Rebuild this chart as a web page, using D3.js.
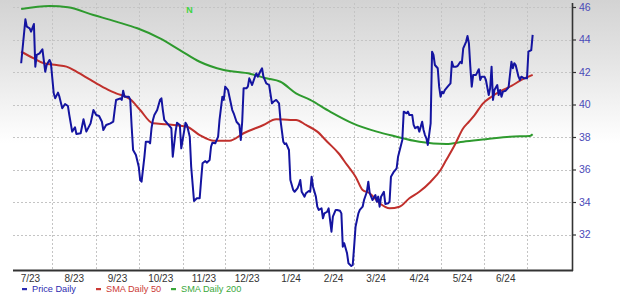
<!DOCTYPE html>
<html>
<head>
<meta charset="utf-8">
<script src="https://cdn.jsdelivr.net/npm/d3@7/dist/d3.min.js"></script>
<style>
html,body{margin:0;padding:0;background:#fff;}
svg{display:block;}
</style>
</head>
<body>
<svg id="chart" width="620" height="298"></svg>
<script>
// ---- data (days counted from startDate) ----
const startDate = "2023-07-01";
const monthLabels = ["7/23","8/23","9/23","10/23","11/23","12/23","1/24","2/24","3/24","4/24","5/24","6/24"];
const yTicks = [32,34,36,38,40,42,44,46];

const priceDay = [9,12,13,15,16,18,19,20,22,24,26,27,29,30,32,33,35,36,38,40,42,43,45,47,48,51,53,55,58,60,62,64,66,67,69,72,74,75,76,79,80,81,82,85,86,87,88,90,92,93,94,96,97,99,100,101,102,103,105,107,108,109,110,113,115,116,118,119,121,122,123,125,126,128,129,131,133,135,136,137,139,140,142,143,144,146,148,149,151,152,153,155,156,158,159,161,163,164,165,166,168,169,170,172,174,175,176,178,179,180,182,184,186,187,189,191,192,194,195,196,198,199,201,202,204,205,206,207,209,210,212,213,214,215,217,218,219,221,222,223,225,226,228,229,231,232,234,235,236,237,239,240,242,243,244,245,247,248,250,251,253,254,255,256,257,259,260,261,262,263,265,266,268,269,270,272,274,275,278,279,281,282,283,285,286,287,289,290,292,293,294,295,296,298,299,300,301,303,304,305,306,307,308,310,312,313,314,316,317,319,320,321,323,324,325,326,327,328,330,332,333,334,336,337,339,340,341,342,343,345,346,347,348,349,351,353,355,356,357,358,360,361,362,364,366,367,369,370];
const priceValue = [42.54,45.24,44.79,44.69,44.48,44.95,42.33,43.05,43.15,43.40,42.02,42.43,42.74,42.54,40.69,40.38,40.73,40.48,39.77,40.03,39.91,39.35,38.33,38.60,38.18,38.23,39.09,38.33,38.84,39.66,39.35,39.29,38.94,38.43,38.74,38.84,38.94,39.66,40.28,40.38,40.28,40.85,40.48,40.48,40.28,38.63,37.20,36.89,36.17,35.35,35.25,36.79,37.71,37.71,37.61,38.54,39.05,39.35,39.66,40.28,40.38,39.66,39.05,38.74,38.54,36.79,38.33,38.88,38.74,37.30,37.82,38.88,38.74,38.02,36.17,34.06,34.23,34.23,35.35,36.38,36.52,36.42,36.58,37.40,37.65,37.61,38.02,39.05,40.48,40.28,41.10,40.89,40.48,39.66,39.46,38.94,38.74,37.82,38.94,41.00,41.00,41.10,41.61,41.20,41.71,41.92,41.71,42.08,42.23,41.71,41.30,41.20,40.07,40.17,40.28,40.07,39.05,37.71,37.57,37.61,37.20,35.35,34.74,34.63,34.84,35.05,35.35,34.63,34.33,34.54,34.68,34.63,35.56,34.94,34.33,33.71,33.51,33.61,33.00,33.30,33.40,33.61,32.17,33.10,33.51,33.51,33.46,33.30,31.25,31.46,30.84,30.23,30.06,30.12,31.25,32.48,33.30,33.51,33.71,34.12,34.63,35.25,34.55,34.33,34.12,34.43,34.02,34.33,33.71,34.33,34.63,33.88,33.92,34.02,35.56,35.86,36.07,36.79,37.82,39.56,39.46,39.56,39.35,39.35,38.74,38.54,38.63,38.33,38.94,38.43,38.12,37.92,37.51,38.84,43.25,43.05,42.43,42.23,41.10,40.48,40.79,40.69,40.89,41.10,41.30,42.63,42.33,42.33,42.37,42.63,42.54,43.46,43.86,44.22,43.77,42.33,41.10,41.82,41.82,42.17,41.51,41.71,41.71,41.51,40.58,41.00,42.33,40.28,40.89,41.20,40.58,40.89,40.48,40.79,40.85,41.06,42.63,42.23,42.54,42.43,41.71,41.51,41.71,41.61,41.61,43.25,43.35,44.28];

const sma50Day = [9,18,25,34,41,48,58,67,76,86,93,102,112,126,135,145,156,166,180,189,199,203,210,218,225,233,239,245,250,255,262,269,276,283,290,298,305,309,315,321,325,329,335,341,348,355,362,370];
const sma50Value = [43.25,42.84,42.54,42.43,42.33,42.02,41.51,41.06,40.69,40.32,39.66,38.84,38.78,38.63,38.12,37.77,37.77,38.23,38.74,39.09,39.05,39.05,38.74,38.33,37.71,37.00,36.28,35.56,34.74,34.54,33.92,33.61,33.71,34.23,34.63,35.25,35.97,36.58,37.51,38.54,38.94,39.35,40.07,40.48,40.85,41.14,41.51,41.82];

const sma200Day = [9,29,42,60,76,91,107,121,135,152,171,182,192,203,213,227,243,260,272,290,309,321,337,354,368,370];
const sma200Value = [45.88,46.06,45.98,45.51,45.10,44.69,44.07,43.35,42.63,42.12,41.88,41.61,41.40,40.69,40.28,39.56,38.84,38.33,38.06,37.71,37.57,37.71,37.86,38.02,38.06,38.17];

// ---- layout ----
const W = 620, H = 298;
const plot = {left: 13, right: 572, top: 3, bottom: 270};
const svg = d3.select("#chart");

const t0 = d3.utcParse("%Y-%m-%d")(startDate);
const toDate = d => d3.utcDay.offset(t0, d);

const x = d3.scaleUtc().domain([t0, d3.utcMonth.offset(t0, 12)]).range([8.4, 527]);
const y = d3.scaleLinear().domain([30, 46]).range([267, 7]);

// background gradient
const defs = svg.append("defs");
const grad = defs.append("linearGradient").attr("id","bg").attr("x1",0).attr("y1",0).attr("x2",0).attr("y2",1);
grad.append("stop").attr("offset","0%").attr("stop-color","#d3d3d3");
grad.append("stop").attr("offset","20%").attr("stop-color","#e4e4e4");
grad.append("stop").attr("offset","48%").attr("stop-color","#ffffff");
grad.append("stop").attr("offset","100%").attr("stop-color","#ffffff");
svg.append("rect").attr("width",W).attr("height",H).attr("fill","url(#bg)");

// grid
const monthStarts = d3.range(1, 13).map(i => d3.utcMonth.offset(t0, i));
svg.append("g").selectAll("line").data(monthStarts).join("line")
  .attr("x1", d => Math.round(x(d)) + 0.5).attr("x2", d => Math.round(x(d)) + 0.5)
  .attr("y1", plot.top).attr("y2", plot.bottom)
  .attr("stroke", "#c4c4c4").attr("stroke-width", 1).attr("stroke-dasharray", "2,2");
svg.append("g").selectAll("line").data(yTicks).join("line")
  .attr("x1", plot.left).attr("x2", plot.right)
  .attr("y1", d => Math.round(y(d)) + 0.5).attr("y2", d => Math.round(y(d)) + 0.5)
  .attr("stroke", "#c4c4c4").attr("stroke-width", 1).attr("stroke-dasharray", "2,2");

// lines
const line = d3.line().x(d => x(d[0])).y(d => y(d[1]));
const mk = (days, vals) => days.map((d, i) => [toDate(d), vals[i]]);

svg.append("path").datum(mk(sma200Day, sma200Value)).attr("d", line.curve(d3.curveMonotoneX))
  .attr("fill","none").attr("stroke","#2e9a2e").attr("stroke-width",2);
svg.append("path").datum(mk(sma50Day, sma50Value)).attr("d", line.curve(d3.curveMonotoneX))
  .attr("fill","none").attr("stroke","#c0302c").attr("stroke-width",2);
svg.append("path").datum(mk(priceDay, priceValue)).attr("d", line.curve(d3.curveLinear))
  .attr("fill","none").attr("stroke","#1414a0").attr("stroke-width",2).attr("stroke-linejoin","round");

// N marker
svg.append("text").attr("x", 189.5).attr("y", 12.5).attr("text-anchor","middle")
  .attr("font-family","Liberation Sans, Arial, sans-serif").attr("font-weight","bold")
  .attr("font-size", 9).attr("fill","#3fd43f").text("N");

// right axis
const yAxis = d3.axisRight(y).tickValues(yTicks).tickSize(4).tickPadding(3).tickFormat(d3.format("d"));
const ya = svg.append("g").attr("transform", `translate(${plot.right},0)`).call(yAxis);
ya.select(".domain").remove();
ya.selectAll(".tick line").attr("stroke","#333").attr("stroke-width",1.2);
ya.selectAll(".tick text").attr("fill","#4a4ab8").attr("font-size",10.5)
  .attr("font-family","Liberation Sans, Arial, sans-serif");
svg.append("line").attr("x1", plot.right + 0.5).attr("x2", plot.right + 0.5)
  .attr("y1", plot.top).attr("y2", plot.bottom + 1).attr("stroke","#333").attr("stroke-width",1.6);

// bottom axis
svg.append("line").attr("x1", plot.left).attr("x2", plot.right + 1)
  .attr("y1", plot.bottom + 0.5).attr("y2", plot.bottom + 0.5).attr("stroke","#333").attr("stroke-width",2);
svg.append("g").selectAll("text").data(monthLabels).join("text")
  .attr("x", (d, i) => (x(d3.utcMonth.offset(t0, i)) + x(d3.utcMonth.offset(t0, i + 1))) / 2)
  .attr("y", 282).attr("text-anchor","middle")
  .attr("font-family","Liberation Sans, Arial, sans-serif").attr("font-size", 10)
  .attr("fill","#333").text(d => d);

// legend
const legend = [
  {name:"Price Daily", color:"#2b2bb0", x:22},
  {name:"SMA Daily 50", color:"#cc3a36", x:96},
  {name:"SMA Daily 200", color:"#3aa83a", x:171}
];
const lg = svg.append("g").selectAll("g").data(legend).join("g")
  .attr("transform", d => `translate(${d.x},292)`);
lg.append("rect").attr("x",0).attr("y",-4).attr("width",5).attr("height",2.2).attr("fill", d => d.color);
lg.append("text").attr("x",10).attr("y",0).attr("font-family","Liberation Sans, Arial, sans-serif")
  .attr("font-size",9.2).attr("fill", d => d.color).text(d => d.name);
</script>
</body>
</html>
